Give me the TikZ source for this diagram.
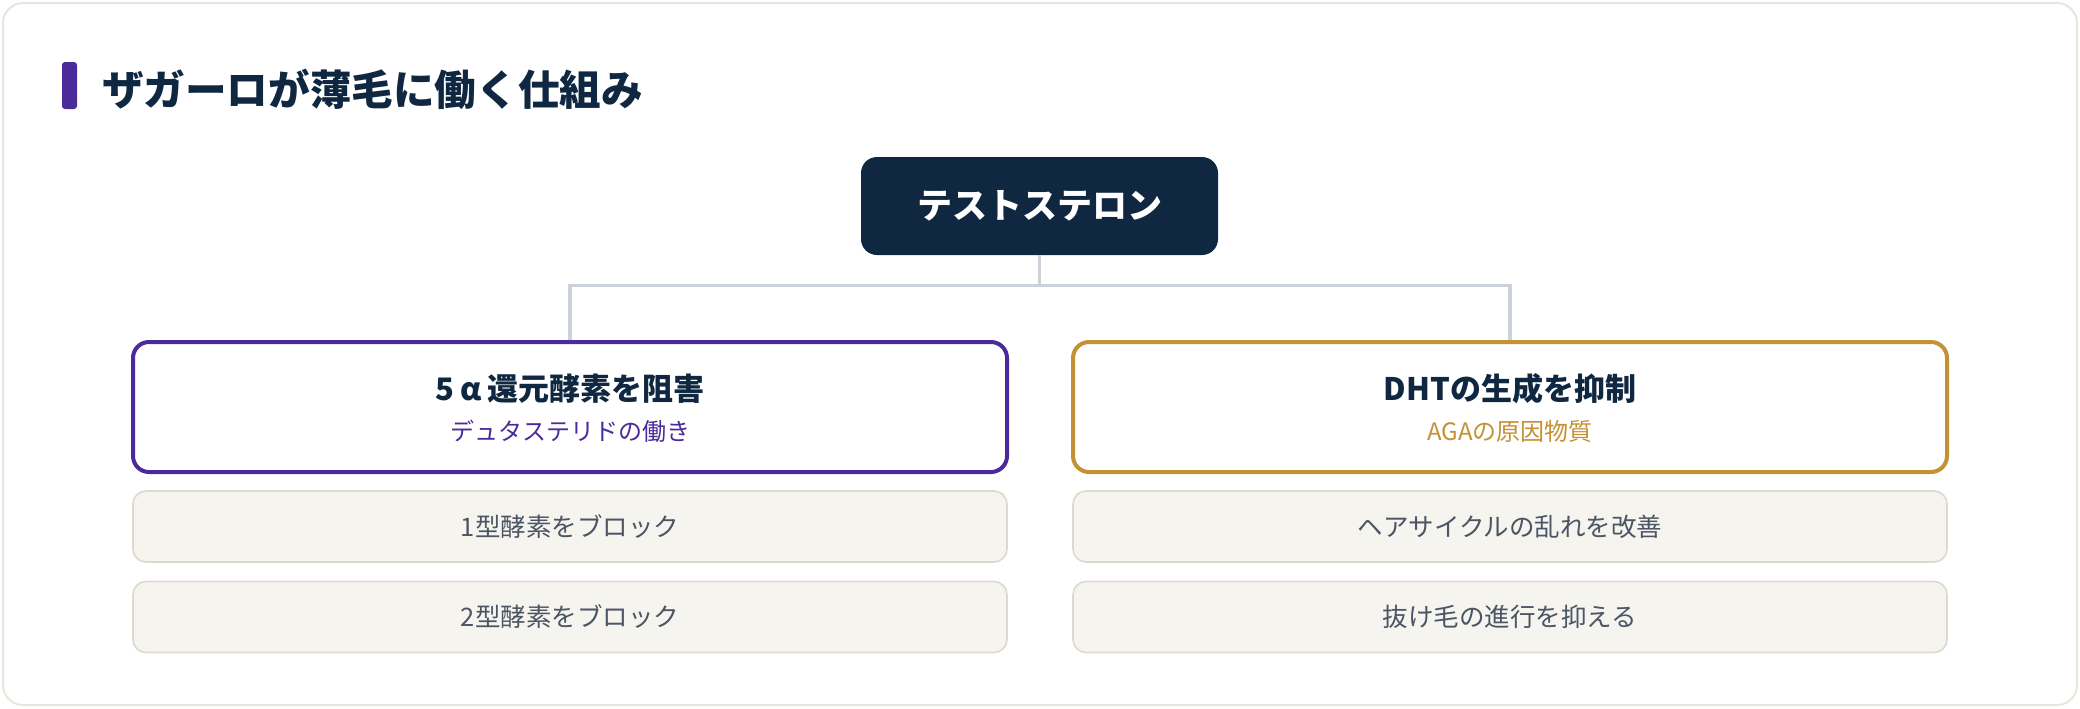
\documentclass[tikz,border=0pt]{standalone}
\usepackage{fontspec}
\setmainfont{Noto Sans CJK JP}
\usetikzlibrary{positioning}
\definecolor{navy}{RGB}{15,39,64}
\definecolor{violetline}{RGB}{75,42,155}
\definecolor{goldline}{RGB}{196,146,52}
\definecolor{cardline}{RGB}{232,230,220}
\definecolor{connline}{RGB}{203,210,219}
\definecolor{softfill}{RGB}{245,244,239}
\definecolor{softline}{RGB}{221,218,205}
\definecolor{softtext}{RGB}{75,85,99}

\begin{document}
\begin{tikzpicture}[x=0.5pt, y=-0.5pt,
	topbox/.style={rectangle, rounded corners=8pt, fill=navy, text=white, minimum width=178.5pt, minimum height=49pt, font=\bfseries\fontsize{17.5}{20}\selectfont},
	mainbox/.style={rectangle, rounded corners=8pt, draw=#1, line width=2pt, fill=white, minimum width=437pt, minimum height=65pt},
	subbox/.style={rectangle, rounded corners=6.5pt, draw=softline, line width=0.8pt, fill=softfill, text=softtext, minimum width=437pt, minimum height=35.5pt, font=\fontsize{12.75}{15}\selectfont},
	headtext/.style={text=navy, font=\bfseries\fontsize{15.5}{18}\selectfont},
	subtext/.style={text=#1, font=\fontsize{12}{14}\selectfont},
	conn/.style={draw=connline, line width=1.6pt}]
	\useasboundingbox (0,0) rectangle (2080,708);
	% card
	\draw[rounded corners=10pt, draw=cardline, line width=1pt, fill=white] (3,3) rectangle (2077,705);
	\fill[violetline, rounded corners=1.5pt] (62,62) rectangle (77,109);
	\node[anchor=west, text=navy, font=\bfseries\fontsize{20.8}{24}\selectfont] (title) at (95,89) {ザガーロが薄毛に働く仕組み};

	% top
	\node[topbox] (testo) at (1039.5,206) {テストステロン};

	% left column
	\node[mainbox=violetline] (inhibit) at (570,407) {};
	\node[headtext] (inhibitHead) at (570,389) {5\makebox[1.05em]{α}還元酵素を阻害};
	\node[subtext=violetline] (inhibitSub) at (570,431) {デュタステリドの働き};
	\node[subbox] (block1) at (570,526.5) {1型酵素をブロック};
	\node[subbox] (block2) at (570,617) {2型酵素をブロック};

	% right column
	\node[mainbox=goldline] (suppress) at (1510,407) {};
	\node[headtext] (suppressHead) at (1510,389) {DHTの生成を抑制};
	\node[subtext=goldline] (suppressSub) at (1510,431) {AGAの原因物質};
	\node[subbox] (cycle) at (1510,526.5) {ヘアサイクルの乱れを改善};
	\node[subbox] (hairloss) at (1510,617) {抜け毛の進行を抑える};

	% connectors
	\draw[conn] (testo.south) -- ++(0,30) -| (inhibit.north);
	\draw[conn] (testo.south) -- ++(0,30) -| (suppress.north);
\end{tikzpicture}
\end{document}
